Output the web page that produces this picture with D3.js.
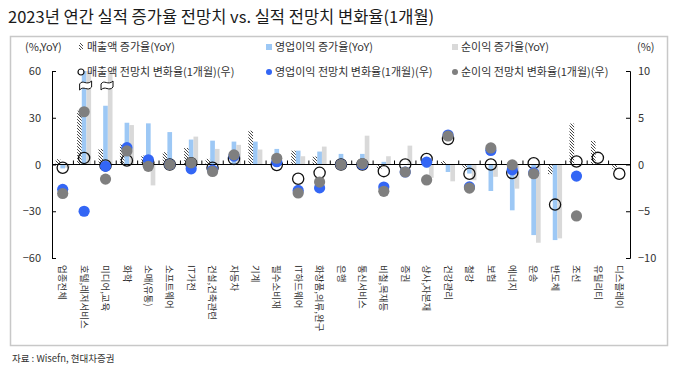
<!DOCTYPE html>
<html><head><meta charset="utf-8">
<script src="https://cdn.jsdelivr.net/npm/d3@7"></script>
<style>
body{margin:0;background:#fff;}
text{font-family:"Noto Sans CJK KR","Noto Sans",sans-serif;fill:#333;}
</style></head><body>
<svg id="chart" width="684" height="375"></svg>
<script>
// 업종별 2023년 증가율 (좌, %YoY) / 1개월 전망치 변화율 (우, %)
var cats = ["업종전체","호텔,레저서비스","미디어,교육","화학","소매(유통)","소프트웨어","IT가전","건설,건축관련","자동차","기계",
  "필수소비재","IT하드웨어","화장품,의류,완구","은행","통신서비스","비철,목재등","증권","상사,자본재","건강관리","철강",
  "보험","에너지","운송","반도체","조선","유틸리티","디스플레이"];
var salesGrowth = [3.4,34.5,10,12.8,5.7,7.9,10.6,3.6,null,21.7,null,8.9,5.1,null,null,-2.8,null,null,2.3,-2.5,null,null,null,-6.2,26.3,15.2,-3];
var opGrowth = [-2.5,95,37.7,26.8,26.4,20.8,16,15.3,14.7,14.7,10,8.9,8.3,6.8,6.8,1.7,null,-2,-4.8,-5.8,-17,-29.4,-45.3,-48.5,null,null,null];
var niGrowth = [-2,120,70,25.3,-13.4,null,17.9,10,12.6,9.6,null,5.3,11.5,null,18.5,5.3,12.1,-8.5,-10.8,-10.1,-7.9,-15.5,-50.2,-47.4,null,null,null];
var salesRev = [-0.35,0.7,-0.1,0.42,0.2,0,0.14,-0.35,0.6,null,-0.05,-1.52,-0.89,0,0,-0.71,0,0.6,2.73,-0.99,0,-0.92,0.14,-4.29,0.32,0.71,-0.99];
var opRev = [-2.66,-5,-0.2,1.8,0.5,0,-0.46,-0.6,0.9,null,0.3,-2.77,-2.5,0,0,-2.41,-0.8,0.25,3.15,-2.4,1.5,-0.57,-0.9,null,-1.24,null,null];
var niRev = [-3.1,5.64,-1.56,1.45,-0.2,0,0.18,-0.74,1.03,null,0.67,-3.05,-1.88,0,0.1,-2.87,-0.8,-1.65,3.05,-2.52,1.77,-0.04,-0.99,null,-5.5,null,null];
var leftTicks = [60,30,0,-30,-60];
var rightTicks = [10,5,0,-5,-10];

var svg = d3.select("#chart");
var x = d3.scaleBand().domain(cats).range([52,630]);
var yL = d3.scaleLinear().domain([-60,60]).range([258,71]);
var yR = d3.scaleLinear().domain([-10,10]).range([258,71]);
var sub = d3.scaleBand().domain(["s","o","n"]).range([-7,7]);
var cx = function(i){ return x(cats[i]) + x.bandwidth()/2; };

var defs = svg.append("defs");
var pat = defs.append("pattern").attr("id","hatch").attr("patternUnits","userSpaceOnUse")
  .attr("width",3).attr("height",3);
pat.append("rect").attr("width",3).attr("height",3).attr("fill","#fff");
pat.append("path").attr("d","M0,0L3,3M-1,2L1,4M2,-1L4,1").attr("stroke","#333").attr("stroke-width",0.9);

// frame + title + footer
svg.append("rect").attr("x",10.5).attr("y",36.5).attr("width",657).attr("height",309)
  .attr("fill","none").attr("stroke","#c8c8c8").attr("stroke-width",1.5);
svg.append("text").attr("x",8).attr("y",23).attr("font-size",16.5)
  .style("fill","#1a1a1a").text("2023년 연간 실적 증가율 전망치 vs. 실적 전망치 변화율(1개월)");
svg.append("text").attr("x",12).attr("y",362).attr("font-size",9.5).text("자료 : Wisefn, 현대차증권");

// bars
var series = [
  {key:"s", vals:salesGrowth, fill:"url(#hatch)"},
  {key:"o", vals:opGrowth, fill:"#9dc8f5"},
  {key:"n", vals:niGrowth, fill:"#d9d9d9"}
];
series.forEach(function(s){
  svg.append("g").selectAll("rect")
    .data(s.vals.map(function(v,i){ return {v:v,i:i}; }).filter(function(d){ return d.v != null; }))
    .enter().append("rect")
    .attr("x", function(d){ return cx(d.i) + sub(s.key); })
    .attr("width", sub.bandwidth())
    .attr("y", function(d){ return yL(Math.max(0, Math.min(60, d.v))); })
    .attr("height", function(d){ return Math.abs(yL(Math.min(60, d.v)) - yL(0)); })
    .attr("fill", s.fill);
});

// break marks for bars above 60
var broken = cats.map(function(c,i){ return i; }).filter(function(i){
  return opGrowth[i] > 60 || niGrowth[i] > 60; });
svg.append("g").selectAll("path").data(broken).enter().append("path")
  .attr("transform", function(i){ return "translate(" + (cx(i)+1.5) + "," + yL(51) + ")"; })
  .attr("d","M-6,-1C-3,-6 1,1 6,-4L6,2C2,7 -2,0 -6,5Z")
  .attr("fill","#fff").attr("stroke","#111").attr("stroke-width",1);

// zero line + category ticks
svg.append("line").attr("x1",52).attr("x2",630).attr("y1",yL(0)).attr("y2",yL(0))
  .attr("stroke","#000").attr("stroke-width",1.2);
svg.append("g").selectAll("line").data(cats.slice(1)).enter().append("line")
  .attr("x1", function(c){ return x(c); }).attr("x2", function(c){ return x(c); })
  .attr("y1", yL(0)).attr("y2", yL(0)-4).attr("stroke","#000");

// axes
var axL = svg.append("g").attr("transform","translate(52,0)")
  .call(d3.axisLeft(yL).tickValues(leftTicks).tickSize(-4).tickPadding(11));
var axR = svg.append("g").attr("transform","translate(630,0)")
  .call(d3.axisRight(yR).tickValues(rightTicks).tickSize(-4).tickPadding(8));
[axL, axR].forEach(function(a){
  a.selectAll("text").attr("font-size",11).style("font-family","'Noto Sans CJK KR',sans-serif").style("fill","#333");
  a.selectAll("path,line").attr("stroke","#000");
});

// markers
function dots(vals, draw){
  return svg.append("g").selectAll("circle")
    .data(vals.map(function(v,i){ return {v:v,i:i}; }).filter(function(d){ return d.v != null; }))
    .enter().append("circle")
    .attr("cx", function(d){ return cx(d.i); })
    .attr("cy", function(d){ return yR(d.v); })
    .attr("r", 5.6).call(draw);
}
dots(salesRev, function(s){ s.attr("fill","none").attr("stroke","#111").attr("stroke-width",1.3); });
dots(opRev, function(s){ s.attr("fill","#3366f5"); });
dots(niRev, function(s){ s.attr("fill","#7f7f7f"); });

// category labels
svg.append("g").selectAll("text").data(cats).enter().append("text")
  .attr("transform", function(c){ return "translate(" + (x(c)+x.bandwidth()/2) + ",265) rotate(90)"; })
  .attr("dy","0.35em").attr("font-size",9.5).text(function(c){ return c; });

// legend
svg.append("text").attr("x",25).attr("y",51).attr("font-size",11).text("(%,YoY)");
svg.append("text").attr("x",637).attr("y",51).attr("font-size",11).text("(%)");
var lg = [
  {x:81, y:47, t:"매출액 증가율(YoY)", m:"hatch"},
  {x:269, y:47, t:"영업이익 증가율(YoY)", m:"sq", c:"#9dc8f5"},
  {x:455, y:47, t:"순이익 증가율(YoY)", m:"sq", c:"#d9d9d9"},
  {x:81, y:72, t:"매출액 전망치 변화율(1개월)(우)", m:"ring"},
  {x:269, y:72, t:"영업이익 전망치 변화율(1개월)(우)", m:"dot", c:"#3366f5"},
  {x:455, y:72, t:"순이익 전망치 변화율(1개월)(우)", m:"dot", c:"#7f7f7f"}
];
var li = svg.append("g").selectAll("g").data(lg).enter().append("g")
  .attr("transform", function(d){ return "translate(" + d.x + "," + d.y + ")"; });
li.each(function(d){
  var g = d3.select(this);
  if (d.m == "hatch") g.append("rect").attr("x",-2).attr("y",-4).attr("width",4).attr("height",7).attr("fill","url(#hatch)");
  if (d.m == "sq") g.append("rect").attr("x",-3).attr("y",-3).attr("width",6).attr("height",6).attr("fill",d.c);
  if (d.m == "ring") g.append("circle").attr("r",3).attr("fill","#fff").attr("stroke","#111").attr("stroke-width",1.2);
  if (d.m == "dot") g.append("circle").attr("r",3).attr("fill",d.c);
  g.append("text").attr("x",6).attr("dy","0.36em").attr("font-size",11).text(d.t);
});
</script>
</body></html>
